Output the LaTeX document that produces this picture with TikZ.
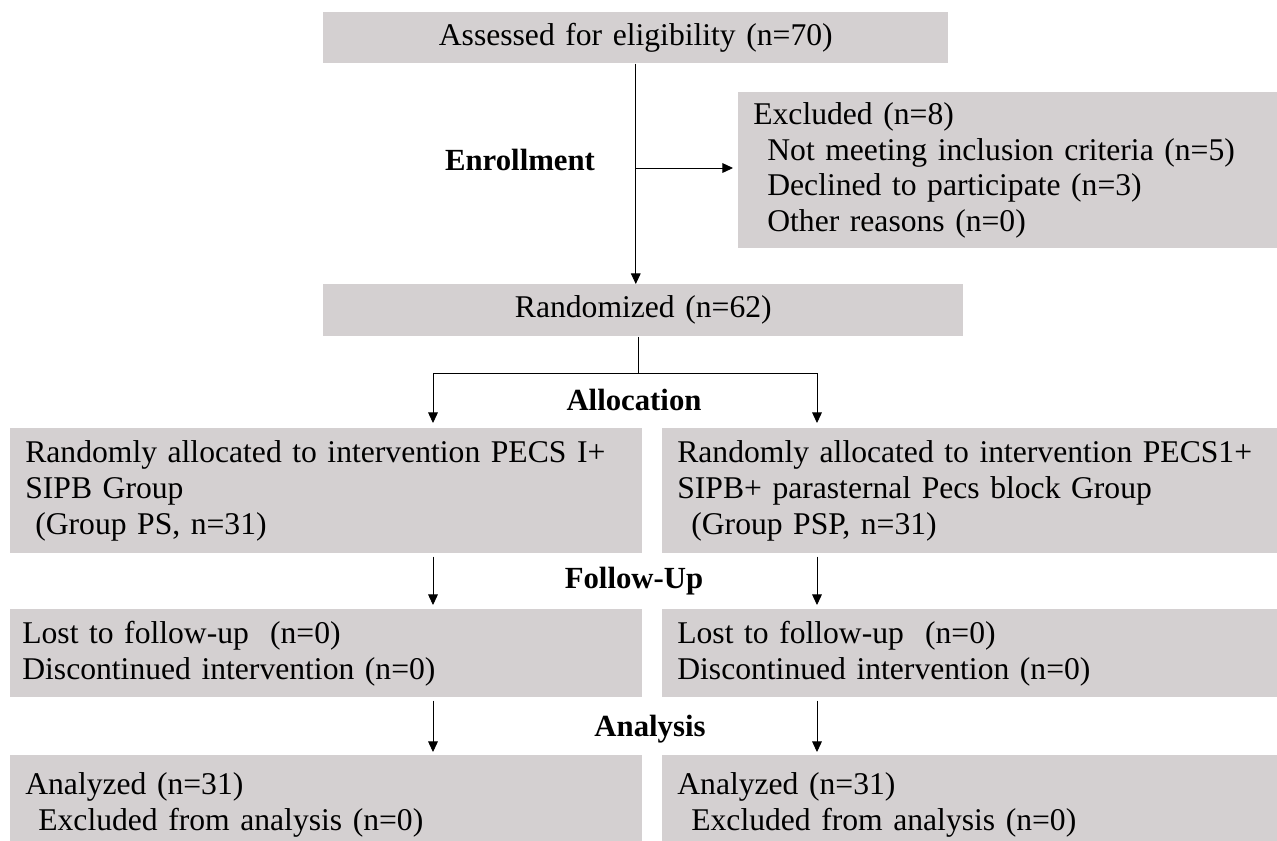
\documentclass[tikz,border=0pt]{standalone}
\usepackage{fontspec}
\setmainfont{Liberation Serif}
\usetikzlibrary{positioning,arrows.meta,calc}
\definecolor{boxgray}{RGB}{212,208,209}

\begin{document}
\begin{tikzpicture}[x=0.02cm,y=-0.02cm,
    box/.style={rectangle, fill=boxgray, anchor=north west, inner xsep=0.3cm, inner ysep=0pt, align=left, font=\fontsize{18}{20.4}\selectfont},
    cbox/.style={box, align=center},
    stage/.style={font=\fontsize{17.5}{20}\selectfont\bfseries},
    conn/.style={line width=0.5pt, -{Triangle[width=5.5pt,length=6pt]}}]
    \clip (0,0) rectangle (1277,840);

    \node[cbox, text width=11.9cm, minimum height=1.02cm] (assessed) at (323,12) {Assessed for eligibility (n=70)};
    \node[box, text width=10.18cm, minimum height=3.12cm] (excl) at (738,92) {
        Excluded (n=8)\\
        \hspace*{0.28cm}Not meeting inclusion criteria (n=5)\\
        \hspace*{0.28cm}Declined to participate (n=3)\\
        \hspace*{0.28cm}Other reasons (n=0)};
    \node[cbox, text width=12.2cm, minimum height=1.04cm] (rand) at (323,284) {Randomized (n=62)};

    \node[box, text width=12.04cm, minimum height=2.5cm] (allocL) at (10,428) {
        Randomly allocated to intervention PECS I+\\
        SIPB Group\\
        \hspace*{0.2cm}(Group PS, n=31)};
    \node[box, text width=11.7cm, minimum height=2.5cm] (allocR) at (662,428) {
        Randomly allocated to intervention PECS1+\\
        SIPB+ parasternal Pecs block Group\\
        \hspace*{0.28cm}(Group PSP, n=31)};

    \node[box, text width=12.16cm, minimum height=1.76cm, inner xsep=0.24cm] (lostL) at (10,609) {
        Lost to follow-up\ \ (n=0)\\
        Discontinued intervention (n=0)};
    \node[box, text width=11.7cm, minimum height=1.76cm] (lostR) at (662,609) {
        Lost to follow-up\ \ (n=0)\\
        Discontinued intervention (n=0)};

    \node[box, text width=12.04cm, minimum height=1.98cm] (anaL) at (10,755) {
        Analyzed (n=31)\\
        \hspace*{0.26cm}Excluded from analysis (n=0)};
    \node[box, text width=11.7cm, minimum height=1.98cm] (anaR) at (662,755) {
        Analyzed (n=31)\\
        \hspace*{0.28cm}Excluded from analysis (n=0)};

    \node[stage] (enroll) at (520,160) {Enrollment};
    \node[stage] (alloc) at (634,400) {Allocation};
    \node[stage] (follow) at (634,581) {Follow-Up};
    \node[stage] (analysis) at (650,729) {Analysis};

    \coordinate (branch) at (636,168);
    \coordinate (split) at (638,373);
    \coordinate (lpath) at (433,373);
    \coordinate (rpath) at (817,373);

    \draw[conn] (assessed.south) -- (assessed.south |- rand.north);
    \draw[conn, shorten >=0.1cm] (branch) -- (branch -| excl.west);
    \draw[line width=0.5pt] (rand.south -| split) -- (split);
    \draw[conn, shorten >=0.1cm] (split) -- (lpath) -- (lpath |- allocL.north);
    \draw[conn, shorten >=0.1cm] (split) -- (rpath) -- (rpath |- allocR.north);

    \draw[conn, shorten <=0.06cm, shorten >=0.08cm] (allocL.south -| lpath) -- (lostL.north -| lpath);
    \draw[conn, shorten <=0.06cm, shorten >=0.08cm] (allocR.south -| rpath) -- (lostR.north -| rpath);
    \draw[conn, shorten <=0.06cm, shorten >=0.06cm] (lostL.south -| lpath) -- (anaL.north -| lpath);
    \draw[conn, shorten <=0.06cm, shorten >=0.06cm] (lostR.south -| rpath) -- (anaR.north -| rpath);
\end{tikzpicture}
\end{document}
